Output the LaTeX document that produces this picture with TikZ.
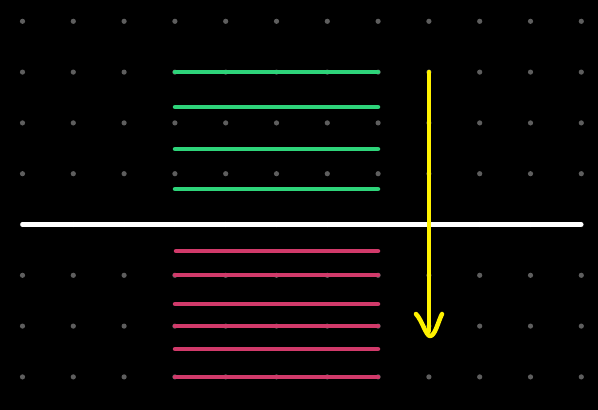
\documentclass[tikz,border=0pt]{standalone}
\definecolor{dotgray}{HTML}{5E5E5E}
\definecolor{lgreen}{HTML}{2ED47A}
\definecolor{lred}{HTML}{D13A6A}
\definecolor{lyellow}{HTML}{FFF200}
\tikzset{
  griddot/.style={fill=dotgray,draw=none},
  gline/.style={lgreen,line width=4.5pt,line cap=round},
  rline/.style={lred,line width=4.5pt,line cap=round},
  wline/.style={white,line width=4.5pt,line cap=round},
  yline/.style={lyellow,line width=4.5pt,line cap=round,line join=round}
}
\begin{document}
\begin{tikzpicture}[x=1pt,y=-1pt]
\fill[black] (0,0) rectangle (598,410);
\useasboundingbox (0,0) rectangle (598,410);
\foreach \i in {0,...,11}{
  \foreach \j in {0,...,7}{
    \fill[griddot] ({22.5+50.8*\i},{21.3+50.8*\j}) circle (2.6);
  }
}
% green lines
\foreach \y in {72,107,149,189}{
  \coordinate (gl\y) at (175,\y);
  \coordinate (gr\y) at (378,\y);
  \draw[gline] (gl\y) -- (gr\y);
}
% white line
\coordinate (wl) at (22.5,224.5);
\coordinate (wr) at (581,224.5);
\draw[wline] (wl) -- (wr);
% red lines
\foreach \y/\x in {251/176,275/175,304/175,326/175,349/175,377/175}{
  \coordinate (rl\y) at (\x,\y);
  \coordinate (rr\y) at (378,\y);
  \draw[rline] (rl\y) -- (rr\y);
}
% yellow arrow
\coordinate (ya) at (429,72);
\coordinate (yb) at (429,331);
\coordinate (yh1) at (416,314);
\coordinate (yh2) at (430,336);
\coordinate (yh3) at (442,314);
\draw[yline] (ya) -- (yb);
\draw[yline] (yh1) .. controls (422,320) and (426,336) .. (yh2) .. controls (435,336) and (438,322) .. (yh3);
\end{tikzpicture}
\end{document}
